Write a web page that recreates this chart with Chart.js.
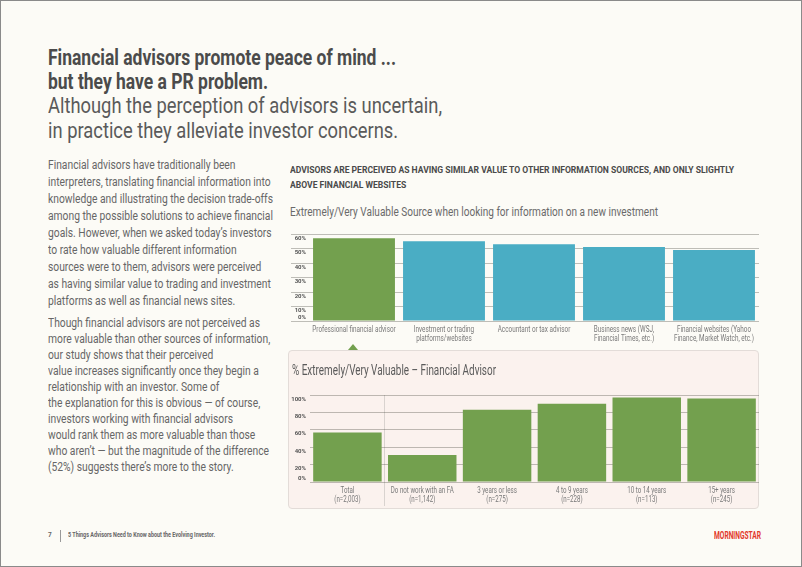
<!DOCTYPE html>
<html>
<head>
<meta charset="utf-8">
<script src="https://cdn.jsdelivr.net/npm/chart.js@4"></script>
<style>
  html, body { margin: 0; padding: 0; }
  body {
    width: 802px; height: 567px; position: relative; overflow: hidden;
    background: #fcfbf6; box-sizing: border-box; border: 1px solid #8a8a8a;
    font-family: Roboto, "DejaVu Sans Condensed", sans-serif;
  }
  .abs { position: absolute; white-space: nowrap; transform-origin: 0 0; }
  .title { left: 47px; top: 45px; font-size: 22px; line-height: 24px; font-weight: bold; color: #4b4b4b; }
  .sub { left: 47px; top: 92px; font-size: 22px; line-height: 25px; color: #5a5a5a; }
  .body { left: 47px; top: 155px; font-size: 12.5px; line-height: 17px; color: #666; }
  .body p { margin: 0 0 6px 0; }
  .body p.p2 { line-height: 16px; }
  .head { left: 289px; top: 161px; font-size: 9.6px; line-height: 15px; font-weight: bold; color: #4a4a4a; }
  .subhead { left: 289px; top: 203px; font-size: 12.5px; color: #6a6a6a; }
  .panel { left: 287px; top: 349px; width: 471px; height: 159px; background: #fbf2ee;
    border: 1px solid #e3dcd8; border-radius: 4px; box-sizing: border-box; }
  .ptitle { left: 291px; top: 361px; font-size: 14px; color: #5a5a5a; }
  .tri { left: 347px; top: 343px; width: 0; height: 0; border-left: 5px solid transparent;
    border-right: 5px solid transparent; border-bottom: 6px solid #73a04e; }
  .foot { top: 530px; font-size: 6.5px; font-weight: bold; color: #666; }
  .logo { left: 713px; top: 529px; font-size: 10px; font-weight: bold; color: #e2392b; }
</style>
</head>
<body>
<div class="abs title" data-w="348">Financial advisors promote peace of mind ...<br>but they have a PR problem.</div>
<div class="abs sub" data-w="394">Although the perception of advisors is uncertain,<br>in practice they alleviate investor concerns.</div>

<div class="abs body" data-w="225">
<p>Financial advisors have traditionally been<br>interpreters, translating financial information into<br>knowledge and illustrating the decision trade-offs<br>among the possible solutions to achieve financial<br>goals. However, when we asked today’s investors<br>to rate how valuable different information<br>sources were to them, advisors were perceived<br>as having similar value to trading and investment<br>platforms as well as financial news sites.</p>
<p class="p2">Though financial advisors are not perceived as<br>more valuable than other sources of information,<br>our study shows that their perceived<br>value increases significantly once they begin a<br>relationship with an investor. Some of<br>the explanation for this is obvious — of course,<br>investors working with financial advisors<br>would rank them as more valuable than those<br>who aren’t — but the magnitude of the difference<br>(52%) suggests there’s more to the story.</p>
</div>

<div class="abs head" data-w="444">ADVISORS ARE PERCEIVED AS HAVING SIMILAR VALUE TO OTHER INFORMATION SOURCES, AND ONLY SLIGHTLY<br>ABOVE FINANCIAL WEBSITES</div>
<div class="abs subhead" data-w="368">Extremely/Very Valuable Source when looking for information on a new investment</div>

<div class="abs" style="left:285px;top:226px;width:475px;height:120px;"><canvas id="topChart"></canvas></div>

<div class="abs panel"></div>
<div class="abs tri"></div>
<div class="abs ptitle" data-w="204">% Extremely/Very Valuable – Financial Advisor</div>
<div class="abs" style="left:285px;top:385px;width:475px;height:120px;"><canvas id="bottomChart"></canvas></div>

<div class="abs foot" style="left:47px;">7</div>
<div class="abs" style="left:59px;top:529px;width:1px;height:12px;background:#999;"></div>
<div class="abs foot" style="left:67px;" data-w="147">5 Things Advisors Need to Know about the Evolving Investor.</div>
<div class="abs logo" data-w="47">MORNINGSTAR</div>

<script>
const sourceLabels = [
  "Professional financial advisor",
  ["Investment or trading", "platforms/websites"],
  "Accountant or tax advisor",
  ["Business news (WSJ,", "Financial Times, etc.)"],
  ["Financial websites (Yahoo", "Finance, Market Watch, etc.)"]
];
const sourceValues = [57, 55, 53, 51, 49];
const sourceTicks = [0, 10, 20, 30, 40, 50, 60];

const groupLabels = [
  ["Total", "(n=2,003)"],
  ["Do not work with an FA", "(n=1,142)"],
  ["3 years or less", "(n=275)"],
  ["4 to 9 years", "(n=228)"],
  ["10 to 14 years", "(n=113)"],
  ["15+ years", "(n=245)"]
];
const groupValues = [57, 31, 83, 90, 97, 96];
const groupTicks = [0, 20, 40, 60, 80, 100];

const green = "#73a04e";
const blue = "#4aadc4";
const fontFam = 'Roboto, "DejaVu Sans Condensed", sans-serif';
const gridCol = "rgba(60,60,50,0.32)";

// squeeze html text to the condensed widths of the original
document.querySelectorAll("[data-w]").forEach((el) => {
  const w = el.getBoundingClientRect().width;
  el.style.transform = "scaleX(" + (+el.dataset.w / w) + ")";
});

// x labels drawn condensed, positions from the category scale
const squeezeLabels = {
  id: "squeezeLabels",
  afterDraw(chart, args, opts) {
    const ctx = chart.ctx;
    const sx = chart.scales.x;
    ctx.save();
    ctx.font = opts.size + "px " + fontFam;
    ctx.fillStyle = "#7a7a7a";
    ctx.textAlign = "center";
    ctx.textBaseline = "middle";
    const k = opts.refWidth / ctx.measureText(opts.refText).width;
    chart.data.labels.forEach((lab, i) => {
      const x = sx.getPixelForTick(i);
      [].concat(lab).forEach((line, j) => {
        ctx.save();
        ctx.translate(x, sx.top + opts.top + j * opts.lineHeight);
        ctx.scale(k, 1);
        ctx.fillText(line, 0, 0);
        ctx.restore();
      });
    });
    ctx.restore();
  }
};

// the 0% label sits just above the baseline in the original
const pctLabel = (v) => (v === 0 ? ["0%", "", ""] : v + "%");

Chart.defaults.font.family = fontFam;
Chart.defaults.animation = false;

new Chart("topChart", {
  type: "bar",
  data: {
    labels: sourceLabels,
    datasets: [{
      data: sourceValues,
      backgroundColor: sourceValues.map((v, i) => (i === 0 ? green : blue)),
      categoryPercentage: 1,
      barPercentage: 0.91
    }]
  },
  plugins: [squeezeLabels],
  options: {
    responsive: true,
    maintainAspectRatio: false,
    layout: { padding: { top: 7, right: 2, left: 0, bottom: 0 } },
    plugins: {
      legend: { display: false }, tooltip: { enabled: false },
      squeezeLabels: { size: 9, top: 8.5, lineHeight: 9.5, refText: "Finance, Market Watch, etc.)", refWidth: 80 }
    },
    scales: {
      x: {
        grid: { display: false },
        border: { display: false },
        ticks: { display: false },
        afterFit: (s) => { s.height = 26; }
      },
      y: {
        min: 0, max: 60, z: 1,
        afterBuildTicks: (s) => { s.ticks = sourceTicks.map((v) => ({ value: v })); },
        grid: { color: gridCol, tickLength: 18 },
        border: { display: false },
        ticks: { color: "#555", font: { size: 6, weight: "bold" }, padding: -15, labelOffset: 4,
          autoSkip: false, callback: pctLabel },
        afterFit: (s) => { s.width = 23; }
      }
    }
  }
});

new Chart("bottomChart", {
  type: "bar",
  data: {
    labels: groupLabels,
    datasets: [{
      data: groupValues,
      backgroundColor: green,
      categoryPercentage: 1,
      barPercentage: 0.915
    }]
  },
  plugins: [squeezeLabels],
  options: {
    responsive: true,
    maintainAspectRatio: false,
    layout: { padding: { top: 9, right: 2, left: 0, bottom: 0 } },
    plugins: {
      legend: { display: false }, tooltip: { enabled: false },
      squeezeLabels: { size: 8.5, top: 8.5, lineHeight: 9.3, refText: "Do not work with an FA", refWidth: 63 }
    },
    scales: {
      x: {
        grid: { offset: true, tickLength: 24,
          color: (c) => (c.index === 1 ? "#d9d3cf" : "rgba(0,0,0,0)") },
        border: { display: false },
        ticks: { display: false },
        afterFit: (s) => { s.height = 24; }
      },
      y: {
        min: 0, max: 100, z: 1,
        afterBuildTicks: (s) => { s.ticks = groupTicks.map((v) => ({ value: v })); },
        grid: { color: gridCol, drawTicks: false },
        border: { display: false },
        ticks: { color: "#555", font: { size: 6, weight: "bold" }, padding: 4, labelOffset: 4,
          autoSkip: false, callback: pctLabel },
        afterFit: (s) => { s.width = 24; }
      }
    }
  }
});
</script>
</body>
</html>
